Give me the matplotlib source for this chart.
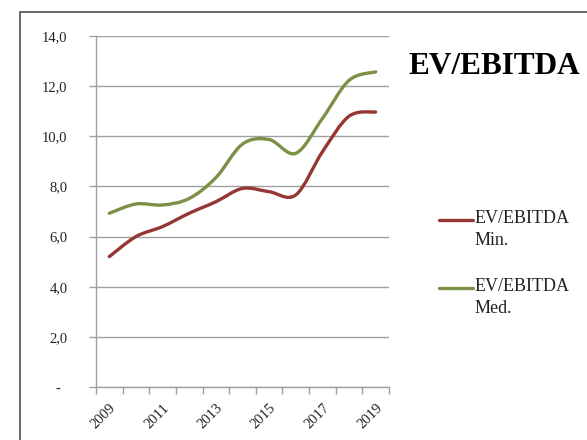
import numpy as np
import matplotlib
matplotlib.use("Agg")
import matplotlib.pyplot as plt
from matplotlib.path import Path
from matplotlib.patches import PathPatch, Rectangle
from matplotlib.lines import Line2D

YEARS = [2009, 2010, 2011, 2012, 2013, 2014, 2015, 2016, 2017, 2018, 2019]
EV_EBITDA_MIN = [5.2, 6.0, 6.4, 6.93, 7.39, 7.92, 7.79, 7.66, 9.38, 10.8, 10.97]
EV_EBITDA_MED = [6.93, 7.3, 7.26, 7.52, 8.35, 9.69, 9.87, 9.32, 10.71, 12.23, 12.57]
SERIES_NAMES = ["EV/EBITDA\nMin.", "EV/EBITDA\nMed."]
Y_TICKS = [0, 2, 4, 6, 8, 10, 12, 14]
Y_LABELS = ["-  ", "2,0", "4,0", "6,0", "8,0", "10,0", "12,0", "14,0"]

RED = "#953735"
GREEN = "#7b9146"
GRID = "#a0a0a0"
FONT = "Liberation Serif"

W, H = 587, 440


def smooth_path(xs, ys) -> Path:
    """Excel-like smoothed line: cubic bezier through every point."""
    pts = np.column_stack([xs, ys]).astype(float)
    ext = np.vstack([pts[0], pts, pts[-1]])
    verts = [pts[0]]
    codes = [Path.MOVETO]
    for i in range(len(pts) - 1):
        p0, p1, p2, p3 = ext[i], ext[i + 1], ext[i + 2], ext[i + 3]
        verts += [p1 + (p2 - p0) / 6, p2 - (p3 - p1) / 6, p2]
        codes += [Path.CURVE4] * 3
    return Path(verts, codes)


fig = plt.figure(figsize=(W / 100, H / 100), dpi=100)
fig.patch.set_facecolor("white")

# outer chart frame, cropped at right and bottom
fig.add_artist(Rectangle((20 / W, -0.2), 1.2, 1.2 - 12 / H,
                         transform=fig.transFigure, fill=False,
                         edgecolor="#5a5a5a", lw=1.3))

ax = fig.add_axes([96 / W, 1 - 387 / H, (389 - 96) / W, (387 - 36) / H])
x = np.arange(len(YEARS))

for vals, color in ((EV_EBITDA_MIN, RED), (EV_EBITDA_MED, GREEN)):
    ax.add_patch(PathPatch(smooth_path(x, vals), fill=False, edgecolor=color,
                           lw=2.4, capstyle="round", joinstyle="round", zorder=3))

ax.set_xlim(-0.5, len(YEARS) - 0.5)
ax.set_ylim(0, 14)

ax.set_yticks(Y_TICKS)
ax.set_yticklabels(Y_LABELS, fontfamily=FONT, fontsize=10.5, color="#222222")
ax.yaxis.grid(True, color=GRID, lw=1.0)
ax.set_axisbelow(True)
ax.tick_params(axis="y", length=5, width=1, color=GRID, pad=15.5)

ax.set_xticks(x[::2])
ax.set_xticklabels([str(y) for y in YEARS[::2]], fontfamily=FONT, fontsize=10.5,
                   color="#222222", rotation=45, ha="right", va="top",
                   rotation_mode="anchor")
ax.set_xticks(np.arange(len(YEARS) + 1) - 0.5, minor=True)
ax.tick_params(axis="x", which="major", length=0, pad=10.5)
ax.tick_params(axis="x", which="minor", length=5, width=1, color=GRID)

for side in ("top", "right"):
    ax.spines[side].set_visible(False)
for side in ("left", "bottom"):
    ax.spines[side].set_color(GRID)
    ax.spines[side].set_linewidth(1.0)

fig.text(494 / W, 1 - 74 / H, "EV/EBITDA", fontfamily=FONT, fontsize=22.5,
         fontweight="bold", ha="center", va="baseline")

# legend drawn by hand: handle sits on the first text line
for (name, color, ly) in ((SERIES_NAMES[0], RED, 220), (SERIES_NAMES[1], GREEN, 288)):
    fig.add_artist(Line2D([439 / W, 473 / W], [1 - ly / H, 1 - ly / H],
                          transform=fig.transFigure, color=color, lw=2.4,
                          solid_capstyle="round"))
    fig.text(475 / W, 1 - (ly - 10) / H, name, fontfamily=FONT, fontsize=13,
             ha="left", va="top", linespacing=1.35, color="#222222")

fig.savefig("out.png", dpi=100)
